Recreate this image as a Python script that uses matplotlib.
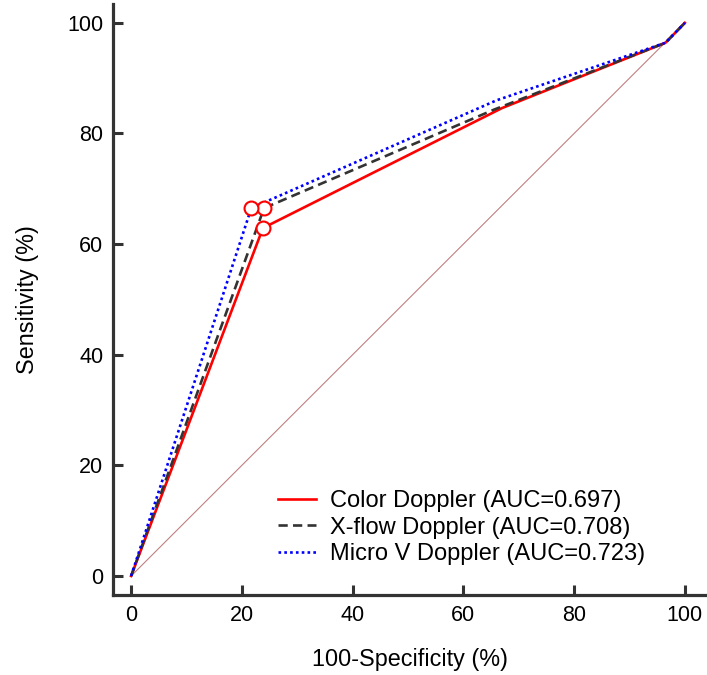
import matplotlib.pyplot as plt

plt.rcParams['font.family'] = ['Liberation Sans', 'DejaVu Sans']

# ROC points (100-specificity, sensitivity) in %
color_fpr = [0, 23.8, 67.0, 96.5, 100]
color_tpr = [0, 62.9, 84.6, 96.4, 100]
xflow_fpr = [0, 24.0, 65.5, 96.5, 100]
xflow_tpr = [0, 66.5, 84.3, 96.4, 100]
microv_fpr = [0, 21.7, 66.0, 96.5, 100]
microv_tpr = [0, 66.5, 86.0, 96.4, 100]

labels = ['Color Doppler (AUC=0.697)',
          'X-flow Doppler (AUC=0.708)',
          'Micro V Doppler (AUC=0.723)']
ticks = [0, 20, 40, 60, 80, 100]

fig = plt.figure(figsize=(7.07, 6.75), dpi=100)
ax = fig.add_axes([0.16, 0.1185, 0.84, 0.8755])

# chance line
ax.plot([0, 100], [0, 100], color='#c08080', lw=0.8, zorder=1)

ax.plot(color_fpr, color_tpr, color='#ff0000', lw=1.9, label=labels[0], zorder=3)
ax.plot(xflow_fpr, xflow_tpr, color='#333333', lw=1.9, ls=(0, (3.5, 2)), label=labels[1], zorder=3)
ax.plot(microv_fpr, microv_tpr, color='#0000ff', lw=1.9, ls=(0, (1, 1.2)), label=labels[2], zorder=4)

# cut-off points
for fx, fy in [(color_fpr, color_tpr), (xflow_fpr, xflow_tpr), (microv_fpr, microv_tpr)]:
    ax.plot(fx[1], fy[1], 'o', ms=10, mfc='white', mec='#ff0000', mew=1.5, zorder=5)

ax.set_xlim(-3.25, 104)
ax.set_ylim(-3.44, 103.4)
ax.set_xticks(ticks)
ax.set_yticks(ticks)
ax.spines['top'].set_visible(False)
ax.spines['right'].set_visible(False)
for s in ['left', 'bottom']:
    ax.spines[s].set_linewidth(2.3)
    ax.spines[s].set_color('#333333')
ax.tick_params(direction='in', length=7.5, width=2.2, color='#333333',
               labelsize=15.5, pad=7)

ax.set_xlabel('100-Specificity (%)', fontsize=16.8, labelpad=16)
ax.set_ylabel('Sensitivity (%)', fontsize=16.8, labelpad=20)

ax.legend(loc='lower left', bbox_to_anchor=(0.278, 0.05), frameon=False,
          fontsize=17, handlelength=1.6, handletextpad=0.6, labelspacing=0.2,
          borderpad=0, borderaxespad=0)

fig.savefig('out.png', dpi=100)
